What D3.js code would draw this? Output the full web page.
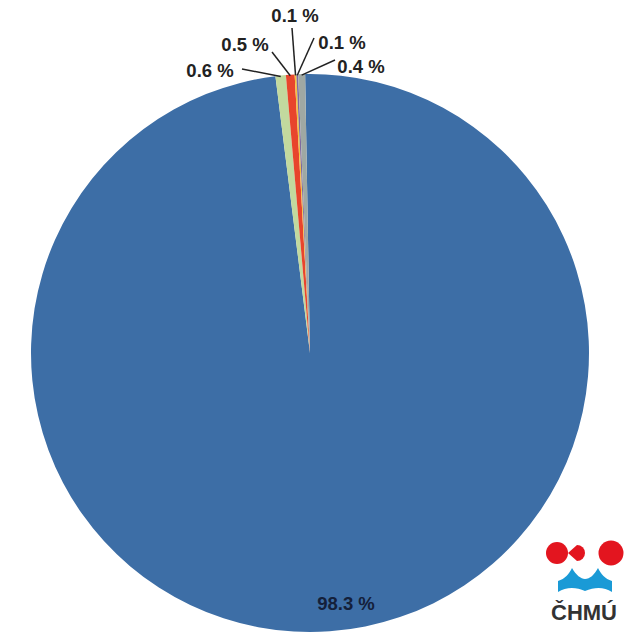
<!DOCTYPE html>
<html>
<head>
<meta charset="utf-8">
<script src="https://cdn.jsdelivr.net/npm/d3@7"></script>
<style>
  body { margin: 0; background: #fff; }
  .lbl { font-family: "Liberation Sans", Arial, sans-serif; font-weight: bold; font-size: 18.5px; fill: #222; }
  .logo-text { font-family: "Liberation Sans", Arial, sans-serif; font-weight: bold; font-size: 22px; fill: #333; }
</style>
</head>
<body>
<div id="chart"></div>
<script>
// slice data, clockwise from the top
const categories = ["A", "B", "C", "D", "E", "F"];
const values = [98.3, 0.6, 0.5, 0.1, 0.1, 0.4];
const labels = ["98.3 %", "0.6 %", "0.5 %", "0.1 %", "0.1 %", "0.4 %"];
const colors = ["#3d6ea6", "#c2d99e", "#e8452c", "#f2c23f", "#7e6aa0", "#9fa8a3"];

// label anchors (text centre)
const labelPos = [
    {x: 346, y: 603},
    {x: 210, y: 70},
    {x: 245, y: 44},
    {x: 295, y: 15},
    {x: 342, y: 42},
    {x: 361, y: 66}
];
const leaderStart = [null, [242, 69], [272, 52], [292, 28], [314, 38], [335, 60]];

const width = 634, height = 633;
const cx = 310, cy = 353, r = 279;

const svg = d3.select("#chart").append("svg")
    .attr("width", width)
    .attr("height", height);

const g = svg.append("g")
    .attr("transform", `translate(${cx}, ${cy})`);

const offset = -1.0 * Math.PI / 180;
const pie = d3.pie()
    .sort(null)
    .value(d => d)
    .startAngle(offset)
    .endAngle(offset + 2 * Math.PI);

const arc = d3.arc().innerRadius(0).outerRadius(r);
const arcs = pie(values);

g.selectAll("path.slice")
    .data(arcs)
    .enter()
    .append("path")
    .attr("class", "slice")
    .attr("d", arc)
    .attr("fill", (d, i) => colors[i]);

// leader lines to the small slices
const edge = d3.arc().innerRadius(r - 1).outerRadius(r - 1);
svg.selectAll("line.leader")
    .data(arcs.slice(1))
    .enter()
    .append("line")
    .attr("class", "leader")
    .attr("x1", (d, i) => leaderStart[i + 1][0])
    .attr("y1", (d, i) => leaderStart[i + 1][1])
    .attr("x2", d => cx + edge.centroid(d)[0])
    .attr("y2", d => cy + edge.centroid(d)[1])
    .attr("stroke", "#222")
    .attr("stroke-width", 1.5);

svg.selectAll("text.lbl")
    .data(labels)
    .enter()
    .append("text")
    .attr("class", "lbl")
    .attr("x", (d, i) => labelPos[i].x)
    .attr("y", (d, i) => labelPos[i].y)
    .attr("text-anchor", "middle")
    .attr("dominant-baseline", "central")
    .style("fill", (d, i) => i === 0 ? "#14203a" : "#222")
    .text(d => d);

// CHMU logo
const logo = svg.append("g").attr("class", "logo");
logo.append("circle").attr("cx", 557).attr("cy", 553).attr("r", 11).attr("fill", "#e3151f");
logo.append("path")
    .attr("d", "M568,553 L577,545 A8,8 0 0 1 577,561 Z")
    .attr("fill", "#e3151f");
logo.append("circle").attr("cx", 611).attr("cy", 553).attr("r", 12.5).attr("fill", "#e3151f");
logo.append("path")
    .attr("d", "M558,581 C565,579 569,574 572,568 C576,575 581,579 585,579 C590,579 594,575 598,568 C601,574 605,579 612,581 L612,592 C604,587 595,587 585,591 C576,587 566,587 558,592 Z")
    .attr("fill", "#1a9ad6");
logo.append("text")
    .attr("class", "logo-text")
    .attr("x", 584)
    .attr("y", 620)
    .attr("text-anchor", "middle")
    .text("ČHMÚ");
</script>
</body>
</html>
